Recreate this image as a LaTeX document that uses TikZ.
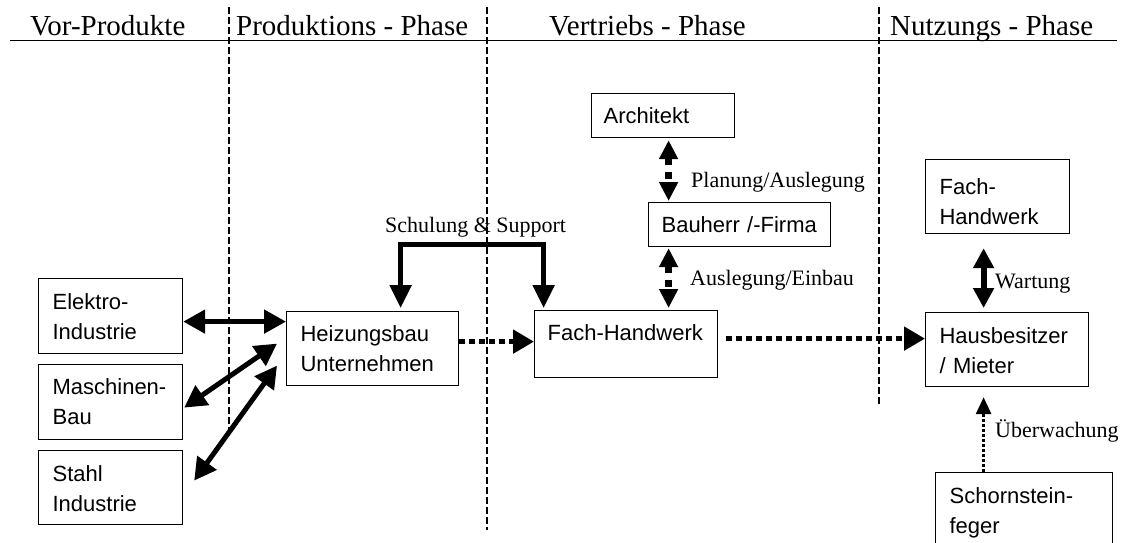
\documentclass[tikz,border=0pt]{standalone}
\usepackage{fontspec}
\setmainfont{Liberation Serif}
\newfontfamily\boxfont{Liberation Sans}
\usetikzlibrary{arrows.meta}

\begin{document}
\begin{tikzpicture}[x=1pt,y=-1pt,
  % boxes: text width + 2*inner xsep = box width; text height/depth place the first baseline
  box/.style={draw, line width=1.2pt, inner xsep=14pt, inner ysep=0pt,
    anchor=north west, align=left,
    font=\boxfont\fontsize{22}{30}\selectfont},
  hdr/.style={inner sep=0pt, anchor=base west, font=\fontsize{29}{34}\selectfont},
  lbl/.style={inner sep=0pt, anchor=base west, font=\fontsize{22}{26}\selectfont},
  rule/.style={line width=1.3pt},
  divider/.style={line width=1.2pt, dash pattern=on 7pt off 3pt},
  solidboth/.style={line width=5pt, >={Triangle[length=22pt,width=23pt]}, <->},
  supportarrow/.style={line width=5pt, >={Triangle[length=23pt,width=21pt]}, <->},
  dashboth/.style={line width=7pt, dash pattern=on 7pt off 7pt,
    >={Triangle[length=19pt,width=18pt]}, <->},
  serviceboth/.style={line width=6pt, >={Triangle[length=20pt,width=20pt]}, <->},
  flow/.style={line width=5pt, dash pattern=on 6pt off 4pt,
    >={Triangle[length=21pt,width=23pt]}, ->},
  watch/.style={line width=3pt, dash pattern=on 3pt off 2pt,
    >={Triangle[length=17pt,width=15pt]}, ->}
]
\path[use as bounding box, clip] (0,0) rectangle (1126,542);

% phase headings and rule
\node[hdr] (hvor)  at (30,35)  {Vor-Produkte};
\node[hdr] (hprod) at (236,35) {Produktions - Phase};
\node[hdr] (hvert) at (549,35) {Vertriebs - Phase};
\node[hdr] (hnutz) at (890,35) {Nutzungs - Phase};
\draw[rule] (10,40.7) -- (1117,40.7);

% phase dividers
\draw[divider] (229,7) -- (229,437);
\draw[divider] (487,7) -- (487,530);
\draw[divider] (879,7) -- (879,407);

% suppliers
\node[box, text width=116pt, text height=31pt, text depth=44pt] (elek)  at (38,278) {Elektro-\\Industrie};
\node[box, text width=116pt, text height=30pt, text depth=45pt] (masch) at (38,364) {Maschinen-\\Bau};
\node[box, text width=116pt, text height=31pt, text depth=43pt] (stahl) at (38,450) {Stahl\\Industrie};

% production and distribution
\node[box, text width=144pt, text height=30pt, text depth=44pt] (heiz) at (286,311) {Heizungsbau\\Unternehmen};
\node[box, inner xsep=13pt, text width=157pt, text height=30pt, text depth=37pt] (fach) at (534,310) {\mbox{Fach-Handwerk}};
\node[box, inner xsep=12pt, text width=119pt, text height=30pt, text depth=14pt] (arch) at (591,93) {Architekt};
\node[box, inner xsep=13pt, text width=156pt, text height=30pt, text depth=14pt] (bau) at (648,202) {\mbox{Bauherr /-Firma}};

% use phase
\node[box, text width=116pt, text height=35pt, text depth=39pt] (fach2) at (925,159) {Fach-\\Handwerk};
\node[box, text width=135pt, text height=31pt, text depth=43pt] (haus) at (925,312) {Hausbesitzer\\/ Mieter};
\node[box, text width=149pt, text height=31pt, text depth=77pt] (schorn) at (935,472) {Schornstein-\\feger};

% supplier links
\draw[solidboth] ([yshift=-5.5pt]elek.east) -- ([yshift=27pt]heiz.west);
\draw[solidboth] ([xshift=1pt,yshift=-5.5pt]masch.east) -- ([xshift=-9pt,yshift=5pt]heiz.west);
\draw[solidboth] ([xshift=11pt,yshift=7pt]stahl.east) -- ([xshift=-9pt,yshift=-17pt]heiz.west);

% training and support
\draw[supportarrow] ([xshift=28pt,yshift=3pt]heiz.north) -- ++(0,-64)
  -| ([xshift=-82.5pt,yshift=2pt]fach.north);
\node[lbl] (lschul) at (385,232) {Schulung \& Support};

% planning chain
\draw[dashboth] ([xshift=5.5pt,yshift=-2pt]arch.south) -- ([xshift=-71pt,yshift=1pt]bau.north);
\node[lbl] (lplan) at (691,187) {Planung/Auslegung};
\draw[dashboth] ([xshift=-71pt,yshift=-1pt]bau.south) -- ([xshift=42.5pt,yshift=2pt]fach.north);
\node[lbl] (lausl) at (690,285) {Auslegung/Einbau};

% product flow
\draw[flow] ([yshift=7pt]heiz.east) -- ([yshift=2.5pt]fach.west);
\draw[flow] ([xshift=8pt,yshift=5.5pt]fach.east) -- ([yshift=11pt]haus.west);

% maintenance and inspection
\draw[serviceboth] ([xshift=-14pt,yshift=-14pt]fach2.south) -- ([xshift=-23.5pt,yshift=4pt]haus.north);
\node[lbl] (lwart) at (995,288) {Wartung};
\draw[watch] ([xshift=-40.5pt]schorn.north) -- ([xshift=-23.5pt,yshift=-10pt]haus.south);
\node[lbl] (lueber) at (995,437) {Überwachung};
\end{tikzpicture}
\end{document}
